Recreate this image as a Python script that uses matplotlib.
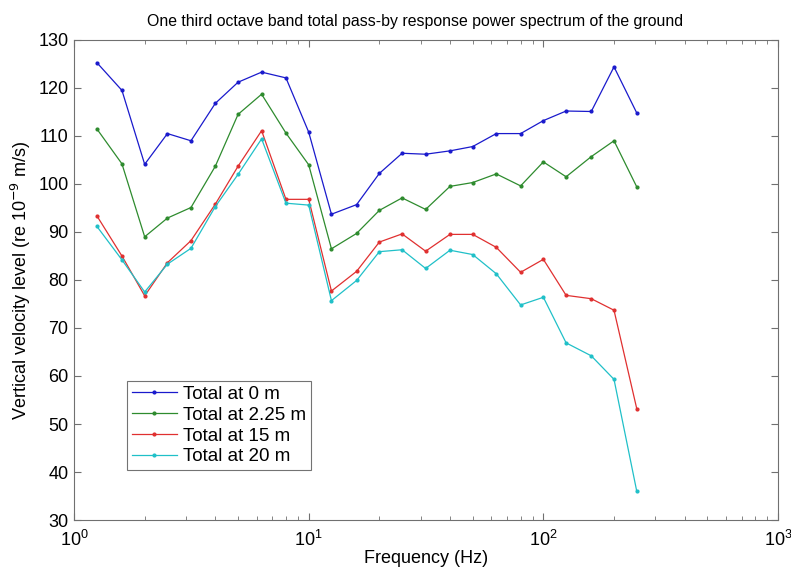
import matplotlib
matplotlib.use("Agg")
import matplotlib.pyplot as plt

plt.rcParams['font.family'] = ['Liberation Sans', 'DejaVu Sans']

# one third octave band centre frequencies (Hz)
freq = [1.25, 1.6, 2, 2.5, 3.15, 4, 5, 6.3, 8, 10, 12.5, 16, 20, 25, 31.5,
        40, 50, 63, 80, 100, 125, 160, 200, 250]

total_0m = [125.3, 119.5, 104.1, 110.5, 109.0, 116.8, 121.2, 123.3, 122.1, 110.8,
            93.7, 95.7, 102.2, 106.4, 106.2, 106.9, 107.8, 110.5, 110.5, 113.2,
            115.2, 115.1, 124.4, 114.8]
total_225m = [111.5, 104.2, 89.0, 92.9, 95.1, 103.7, 114.5, 118.7, 110.6, 104.0,
              86.5, 89.7, 94.5, 97.1, 94.7, 99.5, 100.3, 102.1, 99.6, 104.6,
              101.5, 105.7, 109.0, 99.4]
total_15m = [93.4, 85.0, 76.7, 83.6, 88.2, 95.8, 103.7, 111.1, 96.8, 96.8,
             77.7, 81.8, 87.9, 89.6, 86.0, 89.5, 89.5, 86.8, 81.6, 84.3,
             76.8, 76.1, 73.7, 53.2]
total_20m = [91.2, 84.2, 77.5, 83.3, 86.6, 95.3, 102.0, 109.4, 96.0, 95.6,
             75.7, 79.9, 85.9, 86.3, 82.4, 86.2, 85.3, 81.3, 74.8, 76.4,
             66.9, 64.2, 59.3, 36.0]

labels = ["Total at 0 m", "Total at 2.25 m", "Total at 15 m", "Total at 20 m"]
colors = ["#1a1acc", "#2e8b2e", "#e03030", "#20c0c8"]

fig = plt.figure(figsize=(7.91, 5.71), dpi=100)
ax = fig.add_axes([0.0936, 0.0893, 0.89, 0.8407])

for y, lab, c in zip([total_0m, total_225m, total_15m, total_20m], labels, colors):
    ax.plot(freq, y, color=c, lw=0.9, marker='.', ms=4, label=lab)

ax.set_xscale('log')
ax.set_xlim(1, 1000)
ax.set_ylim(30, 130)
ax.set_yticks(range(30, 131, 10))

for s in ax.spines.values():
    s.set_color('#707070')
    s.set_linewidth(0.8)
ax.tick_params(which='both', direction='in', top=True, right=True,
               colors='#707070', labelcolor='black', labelsize=13)
ax.tick_params(axis='y', pad=4)
ax.tick_params(axis='x', pad=7)
ax.tick_params(which='major', length=5)
ax.tick_params(which='minor', length=3)

ax.set_title("One third octave band total pass-by response power spectrum of the ground",
             fontsize=11.4, pad=10, x=0.485)
ax.set_xlabel("Frequency (Hz)", fontsize=13, labelpad=0)
ax.set_ylabel("Vertical velocity level (re 10$^{-9}$ m/s)", fontsize=13, labelpad=4)

leg = ax.legend(loc='lower left', bbox_to_anchor=(0.075, 0.104), fontsize=13.5,
                frameon=True, fancybox=False, edgecolor='#505050',
                handlelength=2.4, borderpad=0.25, labelspacing=0.2, handletextpad=0.35,
                borderaxespad=0)
leg.get_frame().set_linewidth(0.8)

fig.savefig("out.png", dpi=100)
